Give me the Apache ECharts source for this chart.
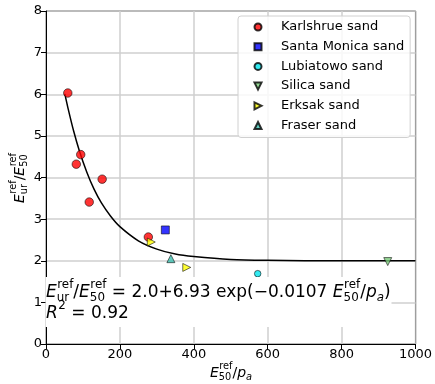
<!DOCTYPE html>
<html><head><meta charset="utf-8">
<script src="https://cdn.jsdelivr.net/npm/echarts@6/dist/echarts.min.js"></script>
<style>html,body{margin:0;padding:0;background:#fff}#c{width:435px;height:384px}</style>
</head><body><div id="c"></div>
<script>
// ---- data ----
const karlsruheX = [59, 82, 94, 117, 152, 277];
const karlsruheY = [6.03, 4.32, 4.55, 3.41, 3.96, 2.57];
const santaMonicaX = [323];
const santaMonicaY = [2.74];
const lubiatowoX = [573];
const lubiatowoY = [1.69];
const silicaX = [925];
const silicaY = [1.98];
const erksakX = [285, 381];
const erksakY = [2.45, 1.84];
const fraserX = [338];
const fraserY = [2.05];
// fitted curve
const fitX = [51, 60, 75, 90, 110, 130, 150, 175, 200, 250, 300, 350, 400, 500, 600, 800, 1000];
const fitY = [6.01, 5.65, 5.11, 4.65, 4.14, 3.72, 3.39, 3.07, 2.82, 2.48, 2.28, 2.16, 2.10, 2.03, 2.01, 2.00, 2.00];
const xTicks = [0, 200, 400, 600, 800, 1000];
const yTicks = [0, 1, 2, 3, 4, 5, 6, 7, 8];
const seriesNames = ['Karlshrue sand', 'Santa Monica sand', 'Lubiatowo sand', 'Silica sand', 'Erksak sand', 'Fraser sand'];

const zip = (a, b) => a.map((v, i) => [v, b[i]]);
const FONT = 'DejaVu Sans';
const TRI_DOWN = 'path://M0,0L10,0L5,10Z';
const TRI_RIGHT = 'path://M0,0L10,5L0,10Z';
const TRI_UP = 'path://M5,0L10,10L0,10Z';

// math-like text layout
const cv = document.createElement('canvas').getContext('2d');
function w(t, size, it) { cv.font = (it ? 'italic ' : '') + size + 'px "' + FONT + '"'; return cv.measureText(t).width; }
function mathText(tokens, s, z) {
  const ss = s * 0.7;
  const els = []; let x = 0;
  const st = (text, size, it) => ({ text, fontSize: size, fontFamily: FONT, fontStyle: it ? 'italic' : 'normal', fill: '#000', textVerticalAlign: 'middle' });
  tokens.forEach(tk => {
    if (tk.t !== undefined) {
      els.push({ type: 'text', z, x: x, y: 0, style: st(tk.t, s, tk.i) });
      x += w(tk.t, s, tk.i);
    } else {
      let ww = 0;
      if (tk.sup) { els.push({ type: 'text', z, x: x + 0.5, y: -0.45 * s, style: st(tk.sup, ss, false) }); ww = Math.max(ww, w(tk.sup, ss) + 0.5); }
      if (tk.sub) { els.push({ type: 'text', z, x: x, y: 0.3 * s, style: st(tk.sub, ss, tk.i) }); ww = Math.max(ww, w(tk.sub, ss, tk.i)); }
      x += ww;
    }
  });
  return { els, width: x };
}
function centered(tokens, s, z) {
  const m = mathText(tokens, s, z);
  m.els.forEach(e => e.x -= m.width / 2);
  return m.els;
}

const eq1 = mathText([{t:'E',i:1},{sup:'ref',sub:'ur'},{t:'/'},{t:'E',i:1},{sup:'ref',sub:'50'},{t:' = 2.0+6.93 exp(−0.0107 '},{t:'E',i:1},{sup:'ref',sub:'50'},{t:'/'},{t:'p',i:1},{sub:'a',i:1},{t:')'}], 17, 30);
const eq2 = mathText([{t:'R',i:1},{sup:'2'},{t:' = 0.92'}], 17, 30);
const yName = centered([{t:'E',i:1},{sup:'ref',sub:'ur'},{t:'/'},{t:'E',i:1},{sup:'ref',sub:'50'}], 14, 30);
const xName = centered([{t:'E',i:1},{sup:'ref',sub:'50'},{t:'/'},{t:'p',i:1},{sub:'a',i:1}], 14, 30);

const chart = echarts.init(document.getElementById('c'), null, { renderer: 'canvas' });
const mk = (name, x, y, symbol, size, color) => ({
  name, type: 'scatter', data: zip(x, y), symbol, symbolSize: size, z: 5,
  itemStyle: { color, borderColor: '#000', borderWidth: 0.7 }
});
chart.setOption({
  animation: false,
  textStyle: { fontFamily: FONT },
  grid: { left: 46, right: 19, top: 11, bottom: 40, show: true, borderColor: '#000', borderWidth: 1, backgroundColor: 'transparent' },
  xAxis: {
    type: 'value', min: xTicks[0], max: xTicks[xTicks.length - 1], interval: xTicks[1] - xTicks[0],
    axisLine: { lineStyle: { color: '#000' } },
    axisTick: { show: true, length: 5, lineStyle: { color: '#000' } },
    axisLabel: { fontSize: 13, color: '#000', margin: 4, fontFamily: FONT, formatter: v => String(v) },
    splitLine: { lineStyle: { color: '#cfcfcf', width: 1.5 } }
  },
  yAxis: {
    type: 'value', min: yTicks[0], max: yTicks[yTicks.length - 1], interval: yTicks[1] - yTicks[0],
    axisLine: { show: true, lineStyle: { color: '#000' } },
    axisTick: { show: true, length: 5, lineStyle: { color: '#000' } },
    axisLabel: { fontSize: 13, color: '#000', margin: 4, fontFamily: FONT },
    splitLine: { lineStyle: { color: '#cfcfcf', width: 1.5 } }
  },
  legend: {
    orient: 'vertical', left: 238, top: 16, data: seriesNames,
    padding: [4, 6, 5, 15.5], itemWidth: 7, itemHeight: 7, itemGap: 5.7,
    backgroundColor: 'rgba(255,255,255,0.85)', borderColor: '#d0d0d0', borderWidth: 1, borderRadius: 3,
    textStyle: { fontSize: 13, color: '#000', fontFamily: FONT, padding: [0, 0, 0, 14.5], lineHeight: 14 }
  },
  series: [
    { name: 'fit', type: 'line', data: zip(fitX, fitY), showSymbol: false, smooth: 0.3,
      lineStyle: { color: '#000', width: 1.5 }, z: 3, silent: true },
    mk(seriesNames[0], karlsruheX, karlsruheY, 'circle', 8.5, '#ff0000'),
    mk(seriesNames[1], santaMonicaX, santaMonicaY, 'rect', 8, '#0000ff'),
    mk(seriesNames[2], lubiatowoX, lubiatowoY, 'circle', 6.5, '#00e5ee'),
    mk(seriesNames[3], silicaX, silicaY, TRI_DOWN, 8, '#7ccd7c'),
    mk(seriesNames[4], erksakX, erksakY, TRI_RIGHT, 8, '#ffff00'),
    mk(seriesNames[5], fraserX, fraserY, TRI_UP, 8, '#3cbfb0')
  ],
  graphic: [
    { type: 'rect', z: 20, shape: { x: 45.5, y: 277, width: 346, height: 50 }, style: { fill: '#fff' } },
    { type: 'group', x: 46, y: 293, children: eq1.els },
    { type: 'group', x: 46, y: 314, children: eq2.els },
    { type: 'group', x: 20, y: 178, rotation: Math.PI / 2, children: yName },
    { type: 'group', x: 231, y: 373, children: xName }
  ]
});
</script></body></html>
